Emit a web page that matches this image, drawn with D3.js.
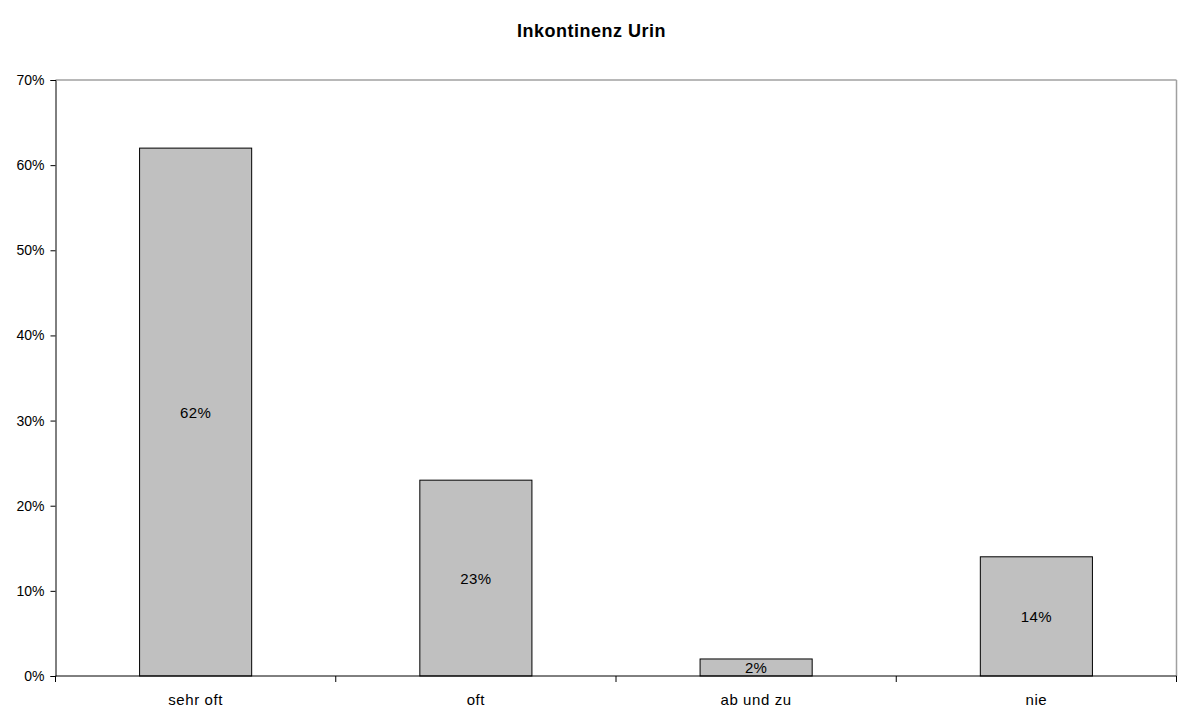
<!DOCTYPE html>
<html>
<head>
<meta charset="utf-8">
<script src="https://cdn.jsdelivr.net/npm/d3@7"></script>
<style>
  html, body { margin: 0; padding: 0; background: #fff; }
  svg { display: block; font-family: "Liberation Sans", Arial, sans-serif; }
</style>
</head>
<body>
<svg id="chart" width="1180" height="709"></svg>
<script>
// Chart data
const title = "Inkontinenz Urin";
const categories = ["sehr oft", "oft", "ab und zu", "nie"];
const values = [62, 23, 2, 14];
const yTicks = [0, 10, 20, 30, 40, 50, 60, 70];

const svg = d3.select("#chart");
const margin = { left: 55.5, right: 3.5, top: 80, bottom: 33 };
const W = 1180, H = 709;
const x0 = margin.left, x1 = W - margin.right;
const y0 = H - margin.bottom, y1 = margin.top;

const x = d3.scaleBand().domain(categories).range([x0, x1])
  .paddingInner(0.6).paddingOuter(0.3);
const y = d3.scaleLinear().domain([0, 70]).range([y0, y1]);

// Title
svg.append("text")
  .attr("x", 591.5).attr("y", 36.5)
  .attr("text-anchor", "middle")
  .attr("font-size", 18).attr("font-weight", "bold")
  .attr("letter-spacing", 0.5)
  .text(title);

// Plot frame: grey top and right edges
svg.append("line").attr("x1", x0).attr("x2", x1).attr("y1", y1).attr("y2", y1)
  .attr("stroke", "#a0a0a0").attr("stroke-width", 1.5);
svg.append("line").attr("x1", x1).attr("x2", x1).attr("y1", y1).attr("y2", y0)
  .attr("stroke", "#a0a0a0").attr("stroke-width", 1.5);

// Bars
svg.selectAll("rect.bar").data(values).join("rect")
  .attr("class", "bar")
  .attr("x", (d, i) => x(categories[i]))
  .attr("width", x.bandwidth())
  .attr("y", d => y(d))
  .attr("height", d => y(0) - y(d))
  .attr("fill", "#c0c0c0")
  .attr("stroke", "#000").attr("stroke-width", 1);

// Value labels inside bars
svg.selectAll("text.val").data(values).join("text")
  .attr("class", "val")
  .attr("x", (d, i) => x(categories[i]) + x.bandwidth() / 2)
  .attr("y", d => (y(d) + y(0)) / 2 + 5.5)
  .attr("text-anchor", "middle")
  .attr("font-size", 15)
  .attr("letter-spacing", 0.4)
  .text(d => d + "%");

// Y axis
const yAxis = d3.axisLeft(y).tickValues(yTicks).tickFormat(d => d + "%")
  .tickSize(5).tickPadding(6);
const gy = svg.append("g").attr("transform", `translate(${x0},0)`).call(yAxis);
gy.select(".domain").attr("stroke", "#000");
gy.selectAll("text").attr("font-size", 14).attr("fill", "#000")
  .attr("font-family", "Liberation Sans, Arial, sans-serif");

// X axis: ticks at category boundaries
const gx = svg.append("g").attr("transform", `translate(0,${y0})`);
gx.append("line").attr("x1", x0).attr("x2", x1).attr("y1", 0).attr("y2", 0)
  .attr("stroke", "#000");
const step = x.step();
const bounds = d3.range(categories.length + 1).map(i => x0 + i * step);
gx.selectAll("line.tick").data(bounds).join("line")
  .attr("class", "tick")
  .attr("x1", d => d).attr("x2", d => d).attr("y1", 0).attr("y2", 6)
  .attr("stroke", "#000");
gx.selectAll("text").data(categories).join("text")
  .attr("x", d => x(d) + x.bandwidth() / 2)
  .attr("y", 28.5)
  .attr("text-anchor", "middle")
  .attr("font-size", 15)
  .attr("letter-spacing", 0.6)
  .text(d => d);
</script>
</body>
</html>
